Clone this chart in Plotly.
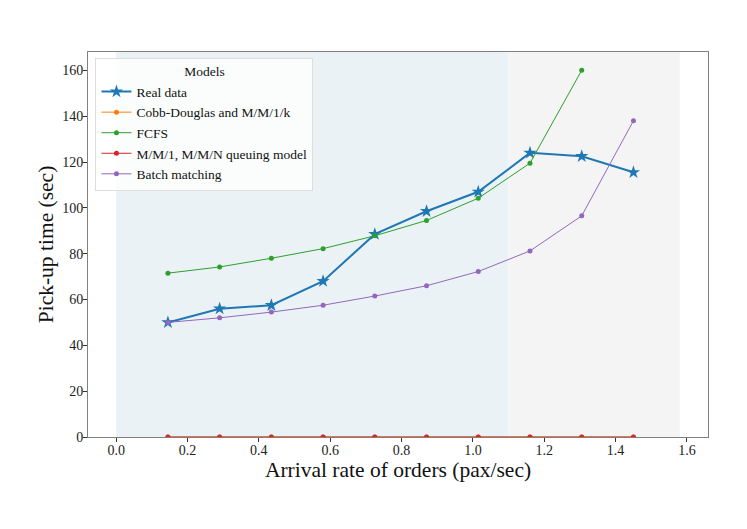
import plotly.graph_objects as go

x_all = [0.145, 0.29, 0.435, 0.58, 0.725, 0.87, 1.015, 1.16, 1.305, 1.45]
real_data = [50, 56, 57.5, 68, 88.5, 98.5, 107, 124, 122.5, 115.5]
cobb_douglas = [0, 0, 0, 0, 0, 0, 0, 0, 0, 0]
fcfs_x = [0.145, 0.29, 0.435, 0.58, 0.725, 0.87, 1.015, 1.16, 1.305]
fcfs = [71.5, 74.2, 78, 82.2, 87.8, 94.5, 104.2, 119.5, 160]
mm1 = [0, 0, 0, 0, 0, 0, 0, 0, 0, 0]
batch = [50, 52, 54.5, 57.5, 61.5, 66, 72.2, 81.2, 96.5, 138]
regions = [(0.0, 1.1, "#eaf2f6"), (1.1, 1.58, "#f4f4f4")]
x_ticks = [0, 0.2, 0.4, 0.6, 0.8, 1.0, 1.2, 1.4, 1.6]
x_ticktext = ["0.0", "0.2", "0.4", "0.6", "0.8", "1.0", "1.2", "1.4", "1.6"]
y_ticks = [0, 20, 40, 60, 80, 100, 120, 140, 160]

FONT = "Liberation Serif"
fig = go.Figure()
fig.add_trace(go.Scatter(x=x_all, y=real_data, name="Real data", mode="lines+markers",
                         line=dict(color="#1f77b4", width=2),
                         marker=dict(symbol="star", size=10, color="#1f77b4")))
fig.add_trace(go.Scatter(x=x_all, y=cobb_douglas, name="Cobb-Douglas and M/M/1/k", mode="lines+markers",
                         line=dict(color="#ff7f0e", width=1),
                         marker=dict(symbol="circle", size=5, color="#ff7f0e")))
fig.add_trace(go.Scatter(x=fcfs_x, y=fcfs, name="FCFS", mode="lines+markers",
                         line=dict(color="#2ca02c", width=1),
                         marker=dict(symbol="circle", size=5, color="#2ca02c")))
fig.add_trace(go.Scatter(x=x_all, y=mm1, name="M/M/1, M/M/N queuing model", mode="lines+markers",
                         line=dict(color="#d62728", width=1),
                         marker=dict(symbol="circle", size=5, color="#d62728")))
fig.add_trace(go.Scatter(x=x_all, y=batch, name="Batch matching", mode="lines+markers",
                         line=dict(color="#9467bd", width=1),
                         marker=dict(symbol="circle", size=5, color="#9467bd")))

for x0, x1, c in regions:
    fig.add_shape(type="rect", xref="x", yref="paper", x0=x0, x1=x1, y0=0, y1=1,
                  fillcolor=c, line=dict(width=0), layer="below")

axis_common = dict(showgrid=False, zeroline=False, showline=True, linecolor="#808080",
                   linewidth=1, mirror=True, ticks="outside", ticklen=4, tickcolor="#333333",
                   automargin=False,
                   tickfont=dict(family=FONT, size=14, color="#222222"))
fig.update_layout(
    width=739, height=521,
    margin=dict(l=80, r=39, t=44, b=92),
    paper_bgcolor="white", plot_bgcolor="white",
    font=dict(family=FONT, color="#111111"),
    xaxis=dict(range=[-0.079, 1.659], tickvals=x_ticks, ticktext=x_ticktext,
               ticklabelstandoff=-4,
               title=dict(text="Arrival rate of orders (pax/sec)", font=dict(family=FONT, size=21.5), standoff=0),
               **axis_common),
    yaxis=dict(range=[0, 168], tickvals=y_ticks, ticklabelstandoff=-3,
               title=dict(text="Pick-up time (sec)", font=dict(family=FONT, size=21.5), standoff=2),
               **axis_common),
    legend=dict(x=0.012, y=0.985, xanchor="left", yanchor="top",
                bgcolor="rgba(255,255,255,0.8)", bordercolor="#dddddd", borderwidth=1,
                font=dict(family=FONT, size=13.5),
                title=dict(text="Models", side="top center", font=dict(family=FONT, size=13.5)),
                itemwidth=30, tracegroupgap=0),
    showlegend=True,
)
fig.write_html("out.html")
